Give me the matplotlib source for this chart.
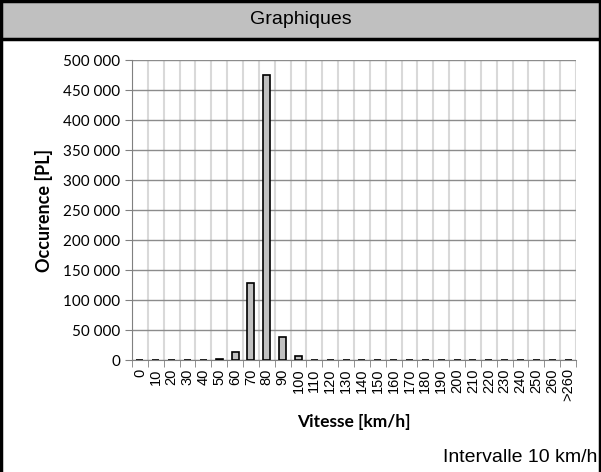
import numpy as np
import matplotlib.pyplot as plt
from matplotlib.lines import Line2D
from matplotlib.patches import Rectangle
from matplotlib.ticker import FuncFormatter, MultipleLocator

# --- Data: speed classes (km/h) and heavy-vehicle counts ---
speed_labels = [str(v) for v in range(0, 270, 10)] + [">260"]
counts = [600, 500, 600, 500, 600, 1500, 14000, 128000, 475000, 39000,
          7000, 600, 500, 500, 500, 400, 400, 400, 300, 300,
          300, 300, 300, 300, 300, 0, 0, 0]

W, H = 601, 472
fig = plt.figure(figsize=(W / 100, H / 100), dpi=100)

# header band with title
fig.patches.append(Rectangle((0, (H - 39) / H), 1, 39 / H, transform=fig.transFigure,
                             facecolor="#c0c0c0", edgecolor="none", zorder=0))
fig.lines.append(Line2D([0, 1], [(H - 39) / H] * 2, transform=fig.transFigure,
                        color="black", lw=2.5))
# outer frame (left, top, right)
for xs, ys in [([0.002, 0.002], [0, 1]), ([0, 1], [0.998, 0.998]), ([0.998, 0.998], [0, 1])]:
    fig.lines.append(Line2D(xs, ys, transform=fig.transFigure, color="black", lw=2.5))
fig.text(0.5, (H - 20) / H, "Graphiques", ha="center", va="center",
         fontsize=14, family="Liberation Sans")

ax = fig.add_axes([132 / W, (H - 360) / H, (576 - 132) / W, 300 / H])
x = np.arange(len(speed_labels))
ax.bar(x, counts, width=0.45, color="#c0c0c0", edgecolor="black", linewidth=1.2, zorder=3)

ax.set_xlim(-0.5, len(speed_labels) - 0.5)
ax.set_ylim(0, 500000)
ax.yaxis.set_major_locator(MultipleLocator(50000))
ax.yaxis.set_major_formatter(FuncFormatter(lambda v, p: f"{int(v):,}".replace(",", " ")))

# category labels centred, ticks and vertical grid at category boundaries
ax.set_xticks(x)
ax.set_xticklabels(speed_labels, rotation=90, fontsize=10.5, family="Liberation Sans")
ax.tick_params(axis="x", which="major", length=0, pad=6)
ax.set_xticks(np.arange(-0.5, len(speed_labels)), minor=True)
ax.tick_params(axis="x", which="minor", length=5, color="#808080", direction="out")
ax.tick_params(axis="y", length=5, color="#808080", direction="out", labelsize=11)
for lab in ax.get_yticklabels():
    lab.set_family("Lato")

ax.grid(True, axis="y", color="#8c8c8c", lw=1.0, zorder=0)
ax.grid(True, axis="x", which="minor", color="#d9d9d9", lw=1.5, zorder=0)
ax.set_axisbelow(True)

for side in ["top", "right"]:
    ax.spines[side].set_visible(False)
ax.spines["left"].set_color("#808080")
ax.spines["bottom"].set_color("#808080")

ax.set_xlabel("Vitesse [km/h]", fontsize=12.5, fontweight="bold", family="Lato", labelpad=9)
ax.set_ylabel("Occurence [PL]", fontsize=13, fontweight="bold", family="Lato", labelpad=7)

fig.text(597 / W, (H - 458) / H, "Intervalle 10 km/h", ha="right", va="center",
         fontsize=14, family="Liberation Sans")

fig.savefig("out.png", dpi=100)
